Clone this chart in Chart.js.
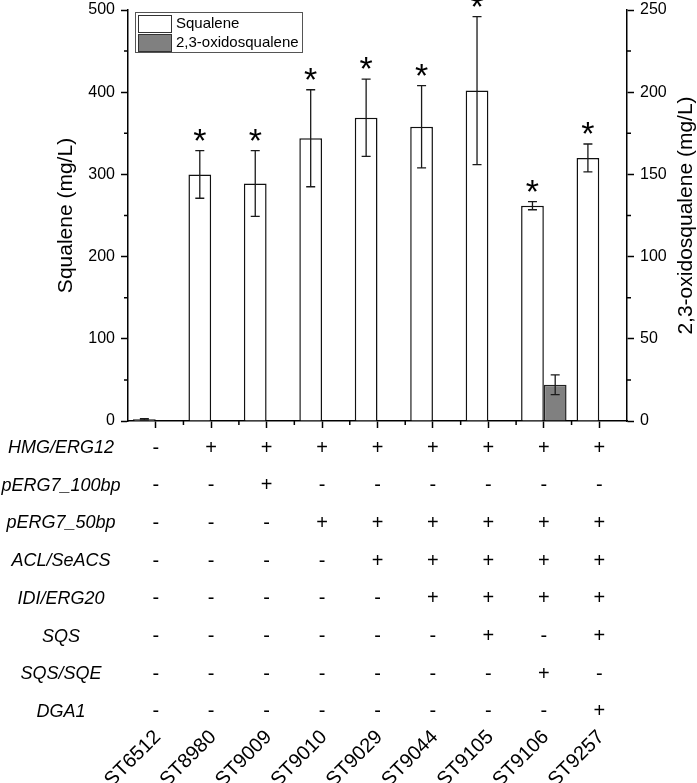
<!DOCTYPE html>
<html>
<head>
<meta charset="utf-8">
<script src="https://cdn.jsdelivr.net/npm/chart.js@4.4.0/dist/chart.umd.min.js"></script>
<style>
  body { margin: 0; background: #fff; }
  #wrap { width: 697px; height: 783px; }
</style>
</head>
<body>
<div id="wrap"><canvas id="chart" width="697" height="783"></canvas></div>
<script>
// strains on the x axis
const strains = ['ST6512', 'ST8980', 'ST9009', 'ST9010', 'ST9029', 'ST9044', 'ST9105', 'ST9106', 'ST9257'];

// squalene (left axis, mg/L) and its error
const squalene = [2, 300, 289, 344, 369, 358, 402, 262, 320];
const squaleneErr = [1, 29, 40, 59, 47, 50, 90, 5, 17];

// 2,3-oxidosqualene (right axis, mg/L) and its error
const oxidosqualene = [null, null, null, null, null, null, null, 22, null];
const oxidosqualeneErr = [null, null, null, null, null, null, null, 6, null];

// asterisk above the squalene bar
const significant = [false, true, true, true, true, true, true, true, true];

// genotype table under the chart, 1 = "+", 0 = "-"
const geneNames = ['HMG/ERG12', 'pERG7_100bp', 'pERG7_50bp', 'ACL/SeACS', 'IDI/ERG20', 'SQS', 'SQS/SQE', 'DGA1'];
const hmgErg12 = [0, 1, 1, 1, 1, 1, 1, 1, 1];
const pErg7_100bp = [0, 0, 1, 0, 0, 0, 0, 0, 0];
const pErg7_50bp = [0, 0, 0, 1, 1, 1, 1, 1, 1];
const aclSeAcs = [0, 0, 0, 0, 1, 1, 1, 1, 1];
const idiErg20 = [0, 0, 0, 0, 0, 1, 1, 1, 1];
const sqs = [0, 0, 0, 0, 0, 0, 1, 0, 1];
const sqsSqe = [0, 0, 0, 0, 0, 0, 0, 1, 0];
const dga1 = [0, 0, 0, 0, 0, 0, 0, 0, 1];
const geneRows = [hmgErg12, pErg7_100bp, pErg7_50bp, aclSeAcs, idiErg20, sqs, sqsSqe, dga1];

const FONT = '"Liberation Sans", Arial, sans-serif';

const extras = {
    id: 'extras',
    afterDatasetsDraw(chart) {
        const { ctx, chartArea, scales } = chart;
        const x = scales.x;
        const half = (x.getPixelForValue(1) - x.getPixelForValue(0)) / 2;

        ctx.save();
        ctx.strokeStyle = '#000';
        ctx.lineWidth = 1.5;

        // minor ticks
        ctx.beginPath();
        for (let v = 50; v < 500; v += 100) {
            const py = scales.y.getPixelForValue(v);
            ctx.moveTo(chartArea.left, py);
            ctx.lineTo(chartArea.left - 4, py);
        }
        for (let v = 25; v < 250; v += 50) {
            const py = scales.y1.getPixelForValue(v);
            ctx.moveTo(chartArea.right, py);
            ctx.lineTo(chartArea.right + 4, py);
        }
        for (let i = 0; i < strains.length - 1; i++) {
            const px = x.getPixelForValue(i) + half;
            ctx.moveTo(px, chartArea.bottom);
            ctx.lineTo(px, chartArea.bottom + 4);
        }
        ctx.stroke();

        // error bars
        ctx.lineWidth = 1.3;
        ctx.strokeStyle = '#1a1a1a';
        const sets = [[0, squalene, squaleneErr, scales.y], [1, oxidosqualene, oxidosqualeneErr, scales.y1]];
        sets.forEach(([di, vals, errs, ys]) => {
            const meta = chart.getDatasetMeta(di);
            vals.forEach((v, i) => {
                if (v == null || errs[i] == null) return;
                const bx = meta.data[i].x;
                const top = ys.getPixelForValue(v + errs[i]);
                const bot = ys.getPixelForValue(Math.max(0, v - errs[i]));
                ctx.beginPath();
                ctx.moveTo(bx, top); ctx.lineTo(bx, bot);
                ctx.moveTo(bx - 4.5, top); ctx.lineTo(bx + 4.5, top);
                ctx.moveTo(bx - 4.5, bot); ctx.lineTo(bx + 4.5, bot);
                ctx.stroke();
            });
        });

        // asterisks
        const meta0 = chart.getDatasetMeta(0);
        ctx.fillStyle = '#000';
        ctx.font = '34px ' + FONT;
        ctx.textAlign = 'center';
        ctx.textBaseline = 'alphabetic';
        significant.forEach((s, i) => {
            if (!s) return;
            const top = scales.y.getPixelForValue(squalene[i] + squaleneErr[i]);
            ctx.fillText('*', meta0.data[i].x, top + 1);
        });

        // legend
        const lx = chartArea.left + 7, ly = chartArea.top + 2;
        ctx.lineWidth = 1;
        ctx.strokeStyle = '#555';
        ctx.strokeRect(lx + 0.5, ly + 0.5, 167, 40);
        chart.data.datasets.forEach((ds, k) => {
            const sy = ly + 3 + k * 19;
            ctx.fillStyle = ds.backgroundColor;
            ctx.fillRect(lx + 3, sy, 33, 17);
            ctx.strokeStyle = '#333';
            ctx.strokeRect(lx + 3.5, sy + 0.5, 33, 17);
            ctx.fillStyle = '#000';
            ctx.font = '15px ' + FONT;
            ctx.textAlign = 'left';
            ctx.textBaseline = 'middle';
            ctx.fillText(ds.label, lx + 41, sy + 9);
        });

        // right axis title
        ctx.save();
        ctx.translate(686, (chartArea.top + chartArea.bottom) / 2);
        ctx.rotate(-Math.PI / 2);
        ctx.font = '21px ' + FONT;
        ctx.textAlign = 'center';
        ctx.textBaseline = 'middle';
        ctx.fillText('2,3-oxidosqualene (mg/L)', 0, 0);
        ctx.restore();

        // genotype table
        ctx.fillStyle = '#000';
        ctx.textBaseline = 'middle';
        geneRows.forEach((row, r) => {
            const ry = chartArea.bottom + 27 + r * 37.7;
            ctx.font = 'italic 18px ' + FONT;
            ctx.textAlign = 'center';
            ctx.fillText(geneNames[r], 61, ry);
            ctx.font = '20px ' + FONT;
            row.forEach((on, i) => {
                ctx.fillText(on ? '+' : '-', x.getPixelForValue(i), ry);
            });
        });

        // strain labels
        ctx.font = '20px ' + FONT;
        ctx.textAlign = 'right';
        ctx.textBaseline = 'middle';
        strains.forEach((s, i) => {
            ctx.save();
            ctx.translate(x.getPixelForValue(i) + 2, 734);
            ctx.rotate(-Math.PI / 4);
            ctx.fillText(s, 0, 0);
            ctx.restore();
        });

        ctx.restore();
    }
};

new Chart(document.getElementById('chart'), {
    type: 'bar',
    data: {
        labels: strains,
        datasets: [
            {
                label: 'Squalene',
                data: squalene,
                yAxisID: 'y',
                backgroundColor: '#ffffff',
                borderColor: '#111',
                borderWidth: 1.5,
                categoryPercentage: 0.82,
                barPercentage: 1.0,
            },
            {
                label: '2,3-oxidosqualene',
                data: oxidosqualene,
                yAxisID: 'y1',
                backgroundColor: '#808080',
                borderColor: '#222',
                borderWidth: 1.5,
                categoryPercentage: 0.82,
                barPercentage: 1.0,
            },
        ],
    },
    options: {
        responsive: false,
        animation: false,
        layout: { padding: { top: 10, left: 0, right: 0, bottom: 0 } },
        plugins: { legend: { display: false }, tooltip: { enabled: false } },
        scales: {
            x: {
                type: 'category',
                offset: true,
                ticks: { display: false },
                grid: { offset: false, drawOnChartArea: false, drawTicks: true, tickLength: 7, color: '#000', tickWidth: 1.5 },
                border: { display: true, color: '#000', width: 1.5 },
                afterFit: (s) => { s.height = 783 - 421; },
            },
            y: {
                position: 'left',
                min: 0,
                max: 500,
                ticks: { stepSize: 100, color: '#000', font: { size: 16, family: FONT }, padding: 6 },
                grid: { drawOnChartArea: false, drawTicks: true, tickLength: 7, color: '#000', tickWidth: 1.5 },
                border: { display: true, color: '#000', width: 1.5 },
                title: { display: true, text: 'Squalene (mg/L)', color: '#000', font: { size: 21, family: FONT }, padding: { top: 54, bottom: 0 } },
                afterFit: (s) => { s.width = 128; s.paddingTop = 0; s.paddingBottom = 0; },
            },
            y1: {
                position: 'right',
                min: 0,
                max: 250,
                ticks: { stepSize: 50, color: '#000', font: { size: 16, family: FONT }, padding: 6 },
                grid: { drawOnChartArea: false, drawTicks: true, tickLength: 7, color: '#000', tickWidth: 1.5 },
                border: { display: true, color: '#000', width: 1.5 },
                afterFit: (s) => { s.width = 70; s.paddingTop = 0; s.paddingBottom = 0; },
            },
        },
    },
    plugins: [extras],
});
</script>
</body>
</html>
